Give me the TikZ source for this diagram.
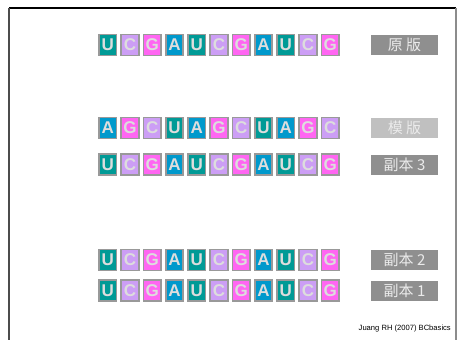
\documentclass[tikz,border=0pt]{standalone}
\usepackage{fontspec}
\setmainfont{Liberation Sans}
\newfontfamily\cjk{Noto Sans CJK TC}
\usepackage{tikz}
\usetikzlibrary{positioning}

\definecolor{colU}{HTML}{009A96}
\definecolor{colC}{HTML}{CC9EF5}
\definecolor{colG}{HTML}{FF66F2}
\definecolor{colA}{HTML}{0099CC}
\definecolor{tileedge}{HTML}{999999}
\definecolor{tiletext}{HTML}{DDDDDD}
\definecolor{labdark}{HTML}{8F8F8F}
\definecolor{lablight}{HTML}{C0C0C0}

\begin{document}
\begin{tikzpicture}[
x=1pt, y=-1pt,
tile/.style={fill=col#1, draw=tileedge, line width=1.6pt, minimum width=17.5pt, minimum height=21pt, inner sep=0pt, text=tiletext, font=\bfseries\fontsize{17}{17}\selectfont},
lab/.style={fill=labdark, text=white!92!black, minimum width=67pt, minimum height=20pt, inner sep=0pt, font=\cjk\fontsize{15}{15}\selectfont},
frame/.style={line width=1.5pt}
]
\useasboundingbox (0,0) rectangle (462,340);

% frame
\draw[frame, black] (9,8) -- (456,8);
\draw[frame, black!70] (9,8) -- (9,340);
\draw[frame, line width=2pt, black!45] (455.5,8) -- (455.5,340);

% strands
\foreach \b [count=\i] in {U,C,G,A,U,C,G,A,U,C,G}
  \node[tile=\b] (orig-\i) at ({107.75+22.25*(\i-1)},45) {\b};
\foreach \b [count=\i] in {A,G,C,U,A,G,C,U,A,G,C}
  \node[tile=\b] (tmpl-\i) at ({107.75+22.25*(\i-1)},128) {\b};
\foreach \b [count=\i] in {U,C,G,A,U,C,G,A,U,C,G}
  \node[tile=\b] (copyc-\i) at ({107.75+22.25*(\i-1)},164.7) {\b};
\foreach \b [count=\i] in {U,C,G,A,U,C,G,A,U,C,G}
  \node[tile=\b] (copyb-\i) at ({107.75+22.25*(\i-1)},260) {\b};
\foreach \b [count=\i] in {U,C,G,A,U,C,G,A,U,C,G}
  \node[tile=\b] (copya-\i) at ({107.75+22.25*(\i-1)},290.5) {\b};

% labels
\node[lab, right=31pt of orig-11] (origlab) {原 版};
\node[lab, fill=lablight, right=31pt of tmpl-11] (tmpllab) {模 版};
\node[lab, right=31pt of copyc-11] (copyclab) {副本 3};
\node[lab, right=31pt of copyb-11] (copyblab) {副本 2};
\node[lab, right=31pt of copya-11] (copyalab) {副本 1};

\node[anchor=east, inner sep=0pt, font=\fontsize{7.6}{8}\selectfont] (credit) at (451,329) {Juang RH (2007) BCbasics};
\end{tikzpicture}
\end{document}
